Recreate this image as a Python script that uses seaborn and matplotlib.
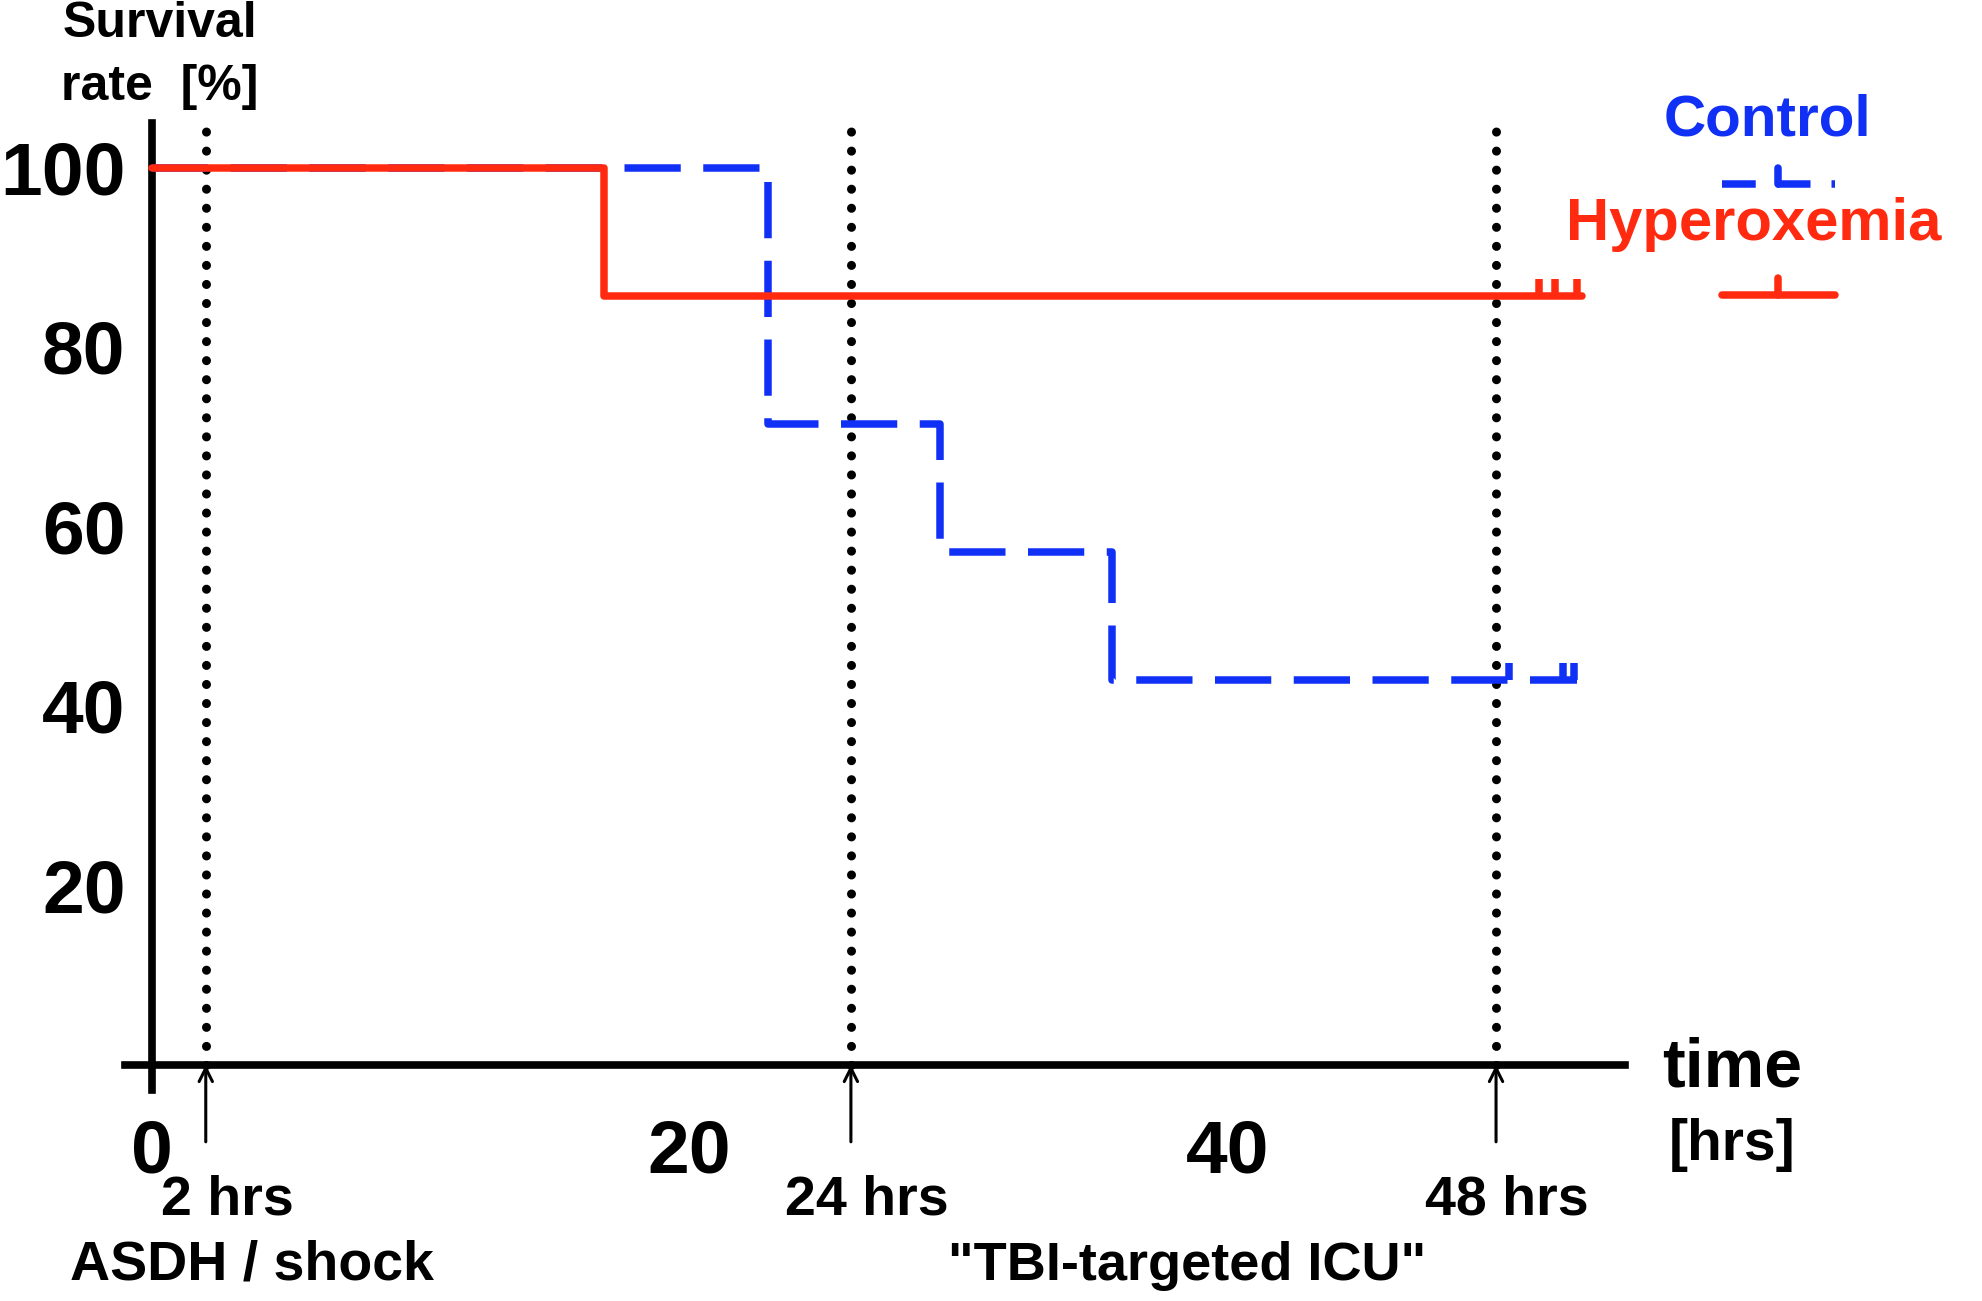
import pandas as pd
import matplotlib
matplotlib.use('Agg')
import matplotlib.pyplot as plt
import seaborn as sns

# Kaplan-Meier step data (n = 7 per group)
control_time = [0, 22.9, 29.3, 35.7, 53.0]
control_surv = [100, 71.4, 57.1, 42.9, 42.9]
control_censor = [50.5, 52.5, 52.9]

hyper_time = [0, 16.8, 53.2]
hyper_surv = [100, 85.7, 85.7]
hyper_censor = [51.6, 52.2, 53.0]

# protocol time points (hours on axis) and their labels
event_times = [2, 26, 50]
event_labels = ['2 hrs', '24 hrs', '48 hrs']
x_ticks = [0, 20, 40]
y_ticks = [20, 40, 60, 80, 100]

BLUE = '#1030F5'
RED = '#FF2A10'

sns.set_style('white')
plt.rcParams['font.family'] = ['Liberation Sans', 'DejaVu Sans']
plt.rcParams['font.weight'] = 'bold'
plt.rcParams['text.color'] = 'black'
plt.rcParams['xtick.color'] = 'black'
plt.rcParams['ytick.color'] = 'black'

control_df = pd.DataFrame({'time': control_time, 'surv': control_surv})
hyper_df = pd.DataFrame({'time': hyper_time, 'surv': hyper_surv})

fig = plt.figure(figsize=(19.83, 13.01), dpi=100)
ax = fig.add_axes([0.0631, 0.1623, 0.7564, 0.7434])

LW = 5.4
sns.lineplot(data=control_df, x='time', y='surv', ax=ax, color=BLUE, lw=LW,
             drawstyle='steps-post', estimator=None, sort=False,
             linestyle=(0, (7.5, 3.0)), zorder=3)
sns.lineplot(data=hyper_df, x='time', y='surv', ax=ax, color=RED, lw=LW,
             drawstyle='steps-post', estimator=None, sort=False, zorder=4)

# censor ticks
ax.vlines(control_censor, control_surv[-1], control_surv[-1] + 1.9, color=BLUE, lw=LW, zorder=3)
ax.vlines(hyper_censor, hyper_surv[-1], hyper_surv[-1] + 1.9, color=RED, lw=LW, zorder=4)

# dotted protocol lines and arrows
label_shift = [0.8, 0.6, 0.4]
for t, lab, dx in zip(event_times, event_labels, label_shift):
    ax.plot([t, t], [0, 105], color='black', lw=6.5, linestyle=(0, (0.01, 2.1)),
            dash_capstyle='round', zorder=2)
    ax.annotate('', xy=(t, 0.3), xytext=(t, -8.9),
                arrowprops=dict(arrowstyle='->', lw=2.2, color='black', mutation_scale=24),
                annotation_clip=False)
    ax.text(t + dx, -15.1, lab, ha='center', va='center', fontsize=40,
            fontweight='bold', clip_on=False)

ax.text(3.7, -22.4, 'ASDH / shock', ha='center', va='center', fontsize=40,
        fontweight='bold', clip_on=False)
ax.text(38.5, -22.4, '"TBI-targeted ICU"', ha='center', va='center', fontsize=39,
        fontweight='bold', clip_on=False)

# axes styling
ax.set_xlim(-1, 54.8)
ax.set_ylim(-2.8, 105)
for s in ['top', 'right']:
    ax.spines[s].set_visible(False)
ax.spines['left'].set_position(('data', 0))
ax.spines['bottom'].set_position(('data', 0))
for s in ['left', 'bottom']:
    ax.spines[s].set_linewidth(5.5)
    ax.spines[s].set_color('black')
ax.set_xticks(x_ticks)
ax.set_yticks(y_ticks)
ax.tick_params(axis='both', length=15, width=5.5, color='black', direction='out')
ax.tick_params(axis='x', pad=24, labelsize=54)
ax.tick_params(axis='y', pad=4, labelsize=54)
for lab in ax.get_xticklabels() + ax.get_yticklabels():
    lab.set_fontweight('bold')
ax.set_xlabel('')
ax.set_ylabel('')

# axis titles
ax.text(58.8, -0.4, 'time', ha='center', va='center', fontsize=49, fontweight='bold', clip_on=False)
ax.text(58.8, -8.9, '[hrs]', ha='center', va='center', fontsize=41, fontweight='bold', clip_on=False)
ax.text(0.3, 116, 'Survival', ha='center', va='center', fontsize=36, fontweight='bold', clip_on=False)
ax.text(0.3, 109, 'rate  [%]', ha='center', va='center', fontsize=36, fontweight='bold', clip_on=False)

# legend
ax.text(60.1, 105.2, 'Control', ha='center', va='center', fontsize=42, fontweight='bold',
        color=BLUE, clip_on=False)
ax.plot([58.4, 62.6], [98.2, 98.2], color=BLUE, lw=LW, linestyle=(0, (4.5, 2.8)), clip_on=False)
ax.plot([60.5, 60.5], [98.2, 100.0], color=BLUE, lw=LW, clip_on=False)
ax.text(59.6, 93.7, 'Hyperoxemia', ha='center', va='center', fontsize=43, fontweight='bold',
        color=RED, clip_on=False)
ax.plot([58.4, 62.6], [85.8, 85.8], color=RED, lw=LW, solid_capstyle='round', clip_on=False)
ax.plot([60.5, 60.5], [85.8, 87.7], color=RED, lw=LW, clip_on=False)

fig.savefig('out.png', dpi=100)
